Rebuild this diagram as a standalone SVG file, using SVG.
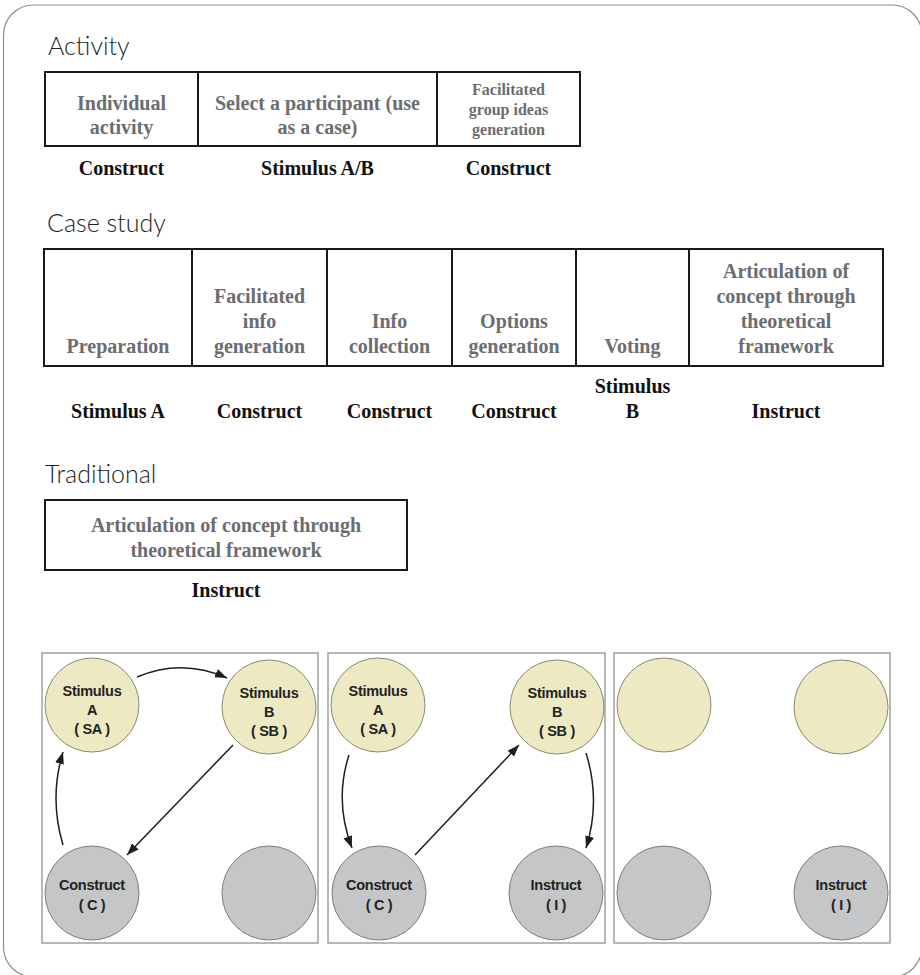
<svg xmlns="http://www.w3.org/2000/svg" width="920" height="975" viewBox="0 0 920 975">
  <style>
    .frame { fill: #ffffff; stroke: #8f8f8f; stroke-width: 1.2; }
    .title { font-family: "Lato", "Liberation Sans", sans-serif; font-weight: 300; font-size: 25px; fill: #1e1e1e; }
    .cell { fill: #ffffff; stroke: #1a1a1a; stroke-width: 2; }
    .ct { font-family: "Liberation Serif", serif; font-weight: bold; font-size: 20px; fill: #6b6d70; text-anchor: middle; }
    .cts { font-family: "Liberation Serif", serif; font-weight: bold; font-size: 16px; fill: #6b6d70; text-anchor: middle; }
    .lab { font-family: "Liberation Serif", serif; font-weight: bold; font-size: 20px; fill: #111111; text-anchor: middle; }
    .panel { fill: #ffffff; stroke: #a0a0a0; stroke-width: 1.5; }
    .stim { fill: #ede9c2; stroke: #8c8a6e; stroke-width: 1; }
    .gray { fill: #c4c6c8; stroke: #7c7e80; stroke-width: 1; }
    .nt { font-family: "Liberation Sans", sans-serif; font-weight: bold; font-size: 14.5px; fill: #222222; text-anchor: middle; letter-spacing: -0.3px; }
    .arrow { fill: none; stroke: #1e1e1e; stroke-width: 1.5; marker-end: url(#head); }
  </style>
  <defs>
    <marker id="head" markerUnits="userSpaceOnUse" markerWidth="13" markerHeight="10" refX="12" refY="4.5" orient="auto">
      <path d="M0,0 L12,4.5 L0,9 z" fill="#1e1e1e"/>
    </marker>
  </defs>

  <!-- page frame -->
  <rect class="frame" x="3.5" y="5" width="918.5" height="972" rx="30" ry="30"/>

  <!-- Activity -->
  <text class="title" x="48" y="55">Activity</text>
  <g id="act-individual">
    <rect class="cell" x="45" y="72" width="153" height="74"/>
    <text class="ct" x="121.5" y="110">Individual</text>
    <text class="ct" x="121.5" y="134">activity</text>
  </g>
  <g id="act-select">
    <rect class="cell" x="198" y="72" width="239" height="74"/>
    <text class="ct" x="317.5" y="110">Select a participant (use</text>
    <text class="ct" x="317.5" y="134">as a case)</text>
  </g>
  <g id="act-group">
    <rect class="cell" x="437" y="72" width="143" height="74"/>
    <text class="cts" x="508.5" y="95">Facilitated</text>
    <text class="cts" x="508.5" y="115">group ideas</text>
    <text class="cts" x="508.5" y="135">generation</text>
  </g>
  <g id="act-labels">
    <text class="lab" x="121.5" y="175">Construct</text>
    <text class="lab" x="317.5" y="175">Stimulus A/B</text>
    <text class="lab" x="508.5" y="175">Construct</text>
  </g>

  <!-- Case study -->
  <text class="title" x="47" y="232">Case study</text>
  <g id="cs-preparation">
    <rect class="cell" x="44" y="249" width="148" height="117"/>
    <text class="ct" x="118" y="353">Preparation</text>
  </g>
  <g id="cs-facilitated">
    <rect class="cell" x="192" y="249" width="135" height="117"/>
    <text class="ct" x="259.5" y="303">Facilitated</text>
    <text class="ct" x="259.5" y="328">info</text>
    <text class="ct" x="259.5" y="353">generation</text>
  </g>
  <g id="cs-collection">
    <rect class="cell" x="327" y="249" width="125" height="117"/>
    <text class="ct" x="389.5" y="328">Info</text>
    <text class="ct" x="389.5" y="353">collection</text>
  </g>
  <g id="cs-options">
    <rect class="cell" x="452" y="249" width="124" height="117"/>
    <text class="ct" x="514" y="328">Options</text>
    <text class="ct" x="514" y="353">generation</text>
  </g>
  <g id="cs-voting">
    <rect class="cell" x="576" y="249" width="113" height="117"/>
    <text class="ct" x="632.5" y="353">Voting</text>
  </g>
  <g id="cs-articulation">
    <rect class="cell" x="689" y="249" width="194" height="117"/>
    <text class="ct" x="786" y="278">Articulation of</text>
    <text class="ct" x="786" y="303">concept through</text>
    <text class="ct" x="786" y="328">theoretical</text>
    <text class="ct" x="786" y="353">framework</text>
  </g>
  <g id="cs-labels">
    <text class="lab" x="118" y="418">Stimulus A</text>
    <text class="lab" x="259.5" y="418">Construct</text>
    <text class="lab" x="389.5" y="418">Construct</text>
    <text class="lab" x="514" y="418">Construct</text>
    <text class="lab" x="632.5" y="393">Stimulus</text>
    <text class="lab" x="632.5" y="418">B</text>
    <text class="lab" x="786" y="418">Instruct</text>
  </g>

  <!-- Traditional -->
  <text class="title" x="45" y="483">Traditional</text>
  <g id="trad-articulation">
    <rect class="cell" x="45" y="500" width="362" height="70"/>
    <text class="ct" x="226" y="532">Articulation of concept through</text>
    <text class="ct" x="226" y="557">theoretical framework</text>
  </g>
  <text class="lab" x="226" y="597">Instruct</text>

  <!-- model panels -->
  <g id="panel-activity">
    <rect class="panel" x="42" y="653" width="276" height="290"/>
    <g id="p1-sa">
      <circle class="stim" cx="92" cy="705" r="47"/>
      <text class="nt" x="92" y="696">Stimulus</text>
      <text class="nt" x="92" y="715">A</text>
      <text class="nt" x="92" y="734">( SA )</text>
    </g>
    <g id="p1-sb">
      <circle class="stim" cx="269" cy="707" r="47"/>
      <text class="nt" x="269" y="698">Stimulus</text>
      <text class="nt" x="269" y="717">B</text>
      <text class="nt" x="269" y="736">( SB )</text>
    </g>
    <g id="p1-c">
      <circle class="gray" cx="92" cy="893" r="47"/>
      <text class="nt" x="92" y="890">Construct</text>
      <text class="nt" x="92" y="910">( C )</text>
    </g>
    <g id="p1-i">
      <circle class="gray" cx="269" cy="893" r="47"/>
    </g>
  </g>

  <g id="panel-case">
    <rect class="panel" x="328" y="653" width="277" height="290"/>
    <g id="p2-sa">
      <circle class="stim" cx="378" cy="705" r="47"/>
      <text class="nt" x="378" y="696">Stimulus</text>
      <text class="nt" x="378" y="715">A</text>
      <text class="nt" x="378" y="734">( SA )</text>
    </g>
    <g id="p2-sb">
      <circle class="stim" cx="557" cy="707" r="47"/>
      <text class="nt" x="557" y="698">Stimulus</text>
      <text class="nt" x="557" y="717">B</text>
      <text class="nt" x="557" y="736">( SB )</text>
    </g>
    <g id="p2-c">
      <circle class="gray" cx="379" cy="893" r="47"/>
      <text class="nt" x="379" y="890">Construct</text>
      <text class="nt" x="379" y="910">( C )</text>
    </g>
    <g id="p2-i">
      <circle class="gray" cx="556" cy="893" r="47"/>
      <text class="nt" x="556" y="890">Instruct</text>
      <text class="nt" x="556" y="910">( I )</text>
    </g>
  </g>

  <g id="panel-traditional">
    <rect class="panel" x="614" y="653" width="276" height="290"/>
    <g id="p3-sa">
      <circle class="stim" cx="664" cy="705" r="47"/>
    </g>
    <g id="p3-sb">
      <circle class="stim" cx="841" cy="707" r="47"/>
    </g>
    <g id="p3-c">
      <circle class="gray" cx="664" cy="893" r="47"/>
    </g>
    <g id="p3-i">
      <circle class="gray" cx="841" cy="893" r="47"/>
      <text class="nt" x="841" y="890">Instruct</text>
      <text class="nt" x="841" y="910">( I )</text>
    </g>
  </g>

  <!-- connectors -->
  <g id="connectors">
    <path class="arrow" d="M137,677 Q182,658 227,678"/>
    <path class="arrow" d="M233,745 L127,855"/>
    <path class="arrow" d="M63,845 Q49,798 63,752"/>
    <path class="arrow" d="M349,755 Q334,801 352,848"/>
    <path class="arrow" d="M415,855 L519,745"/>
    <path class="arrow" d="M586,753 Q601,801 586,848"/>
  </g>
</svg>
